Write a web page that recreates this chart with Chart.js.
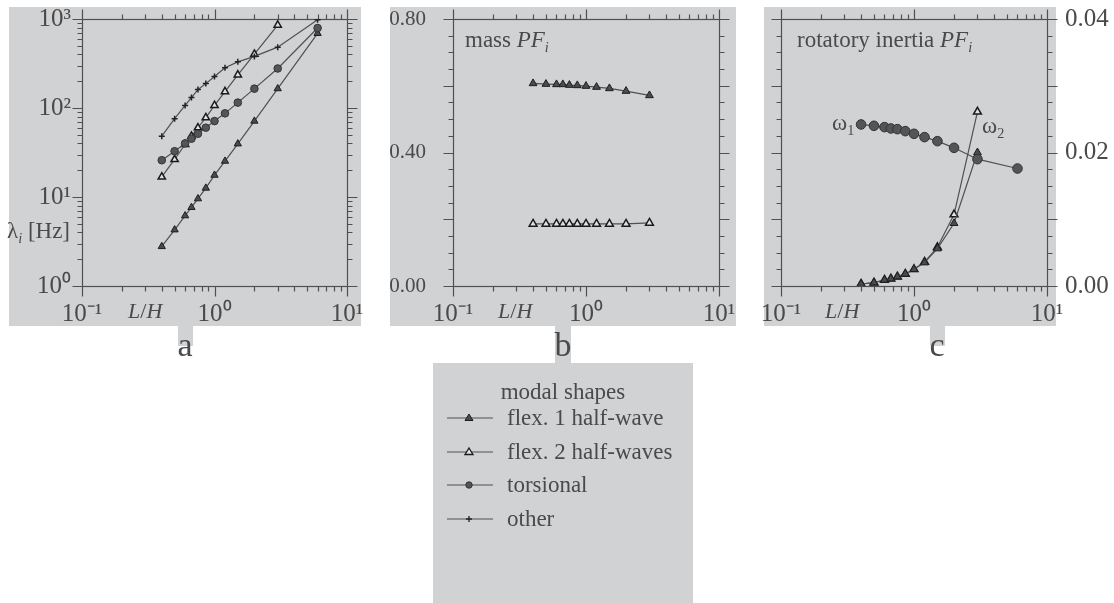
<!DOCTYPE html>
<html>
<head>
<meta charset="utf-8">
<script src="https://cdn.jsdelivr.net/npm/chart.js@4.4.1/dist/chart.umd.min.js"></script>
<style>
  body { margin: 0; width: 1114px; height: 603px; position: relative; overflow: hidden; background: #fff;
         font-family: "Liberation Serif", "Times New Roman", serif; color: #4a4a4a; }
  .panel { position: absolute; background: #d1d2d4; }
  canvas { position: absolute; }
  .txt { position: absolute; white-space: nowrap; font-size: 23px; line-height: 1; transform: translateY(-50%); }
  .txt sub { font-size: 0.62em; vertical-align: -0.3em; }
  .lh { font-size: 22px; }
  .letter { position: absolute; font-size: 34px; line-height: 34px; width: 40px; text-align: center; }
  #legend .row { position: absolute; left: 14px; height: 30px; font-size: 23px; line-height: 30px; white-space: nowrap; }
  #legend svg { position: absolute; left: 0; top: 9px; }
  #legend .row span { position: absolute; left: 60px; top: 0; }
</style>
</head>
<body>
<div class="panel" style="left:9px;top:7px;width:352px;height:319px"></div>
<div class="panel" style="left:390px;top:7px;width:346px;height:319px"></div>
<div class="panel" style="left:764px;top:7px;width:292px;height:319px"></div>

<div class="panel" style="left:178px;top:326px;width:15px;height:20px"></div>
<div class="panel" style="left:555px;top:326px;width:16px;height:37px"></div>
<div class="panel" style="left:930px;top:326px;width:15px;height:20px"></div>

<canvas id="chart-a" width="370" height="330" style="left:0;top:0"></canvas>
<canvas id="chart-b" width="346" height="330" style="left:390px;top:0"></canvas>
<canvas id="chart-c" width="364" height="330" style="left:750px;top:0"></canvas>

<div class="txt" style="left:7px;top:232px">&lambda;<sub><i>i</i></sub> [Hz]</div>
<div class="txt lh" style="left:128px;top:311px"><i>L</i>/<i>H</i></div>
<div class="txt lh" style="left:498px;top:311px"><i>L</i>/<i>H</i></div>
<div class="txt lh" style="left:825px;top:311px"><i>L</i>/<i>H</i></div>
<div class="txt" style="left:465px;top:41px">mass <i>PF</i><sub><i>i</i></sub></div>
<div class="txt" style="left:797px;top:41px">rotatory inertia <i>PF</i><sub><i>i</i></sub></div>
<div class="txt" style="left:832px;top:124px">&omega;<sub>1</sub></div>
<div class="txt" style="left:982px;top:127px">&omega;<sub>2</sub></div>

<div class="letter" style="left:165px;top:328px">a</div>
<div class="letter" style="left:543px;top:328px">b</div>
<div class="letter" style="left:917px;top:328px">c</div>

<div id="legend" class="panel" style="left:433px;top:363px;width:260px;height:240px">
  <div class="row" style="left:0;width:260px;top:14px;text-align:center">modal shapes</div>
</div>

<script>
const LH = [0.4, 0.5, 0.6, 0.67, 0.75, 0.86, 1.0, 1.2, 1.5, 2, 3, 6];

// panel a: natural frequencies [Hz]
const freqFlex1 = [2.78, 4.28, 6.16, 7.64, 9.57, 12.6, 17.6, 25.3, 39.6, 71.3, 165, 689];
const freqFlex2 = [16.8, 26.4, 38.9, 48.3, 60.0, 77.9, 107, 153, 236, 403, 855, null];
const freqTors = [25.9, 32.7, 40.0, 45.2, 51.4, 60.1, 71.3, 87.1, 115, 165, 278, 792];
const freqOther = [48.3, 75.9, 107, 131, 161, 188, 226, 283, 330, 380, 483, 982];

// panel b: mass participation factors
const massFlex1 = [0.607, 0.605, 0.604, 0.604, 0.602, 0.601, 0.599, 0.596, 0.592, 0.584, 0.571];
const massFlex2 = [0.186, 0.186, 0.186, 0.186, 0.186, 0.186, 0.186, 0.186, 0.186, 0.186, 0.189];

// panel c: rotatory inertia participation factors
const rotTors = [0.0242, 0.0240, 0.0238, 0.0236, 0.0235, 0.0232, 0.0228, 0.0223, 0.0217, 0.0207, 0.0190, 0.0176];
const rotFlex1 = [0.0003, 0.0005, 0.0009, 0.0011, 0.0014, 0.0018, 0.0025, 0.0035, 0.0056, 0.0094, 0.0200];
const rotFlex2 = [0.0003, 0.0005, 0.0009, 0.0011, 0.0014, 0.0018, 0.0025, 0.0036, 0.0058, 0.0107, 0.0261];

const legendLabels = ["flex. 1 half-wave", "flex. 2 half-waves", "torsional", "other"];

const INK = "#4a4a4a";
const LINE = "#505050";
const FONT = "'Liberation Serif', 'Times New Roman', serif";
const TOP = 19;
const BOTTOM = 286;

const STYLES = {
  flex1: { pointStyle: "triangle", pointRadius: 4.2, pointBackgroundColor: "#4b4b4b", pointBorderColor: "#1e1e1e", pointBorderWidth: 1 },
  flex2: { pointStyle: "triangle", pointRadius: 4.2, pointBackgroundColor: "#e2e2e2", pointBorderColor: "#1a1a1a", pointBorderWidth: 1.5 },
  tors: { pointStyle: "circle", pointRadius: 3.8, pointBackgroundColor: "#555555", pointBorderColor: "#333333", pointBorderWidth: 1 },
  other: { pointStyle: "cross", pointRadius: 3, pointBackgroundColor: "#222", pointBorderColor: "#222222", pointBorderWidth: 1.5 },
};

const SUP = { "-": "\u207B", "0": "\u2070", "1": "\u00B9", "2": "\u00B2", "3": "\u00B3" };

function decadeLabel(value) {
  const e = Math.log10(value);
  const r = Math.round(e);
  if (Math.abs(e - r) > 1e-6) return "";
  return "10" + String(r).split("").map((c) => SUP[c]).join("");
}

function points(xs, ys) {
  return xs.map((x, i) => ({ x, y: ys[i] })).filter((p) => p.y !== null && p.y !== undefined);
}

function series(kind, xs, ys, radius) {
  const style = Object.assign({}, STYLES[kind]);
  if (radius) style.pointRadius = radius;
  return Object.assign({ data: points(xs, ys), showLine: true, borderColor: LINE, borderWidth: 1.2, fill: false }, style);
}

function logTicks(minExp, maxExp) {
  const out = [];
  for (let e = minExp; e <= maxExp; e++) {
    out.push({ v: Math.pow(10, e), major: true });
    if (e < maxExp) {
      for (let m = 2; m <= 9; m++) out.push({ v: m * Math.pow(10, e), major: false });
    }
  }
  return out;
}

function linTicks(max, step, majorEvery) {
  const out = [];
  const n = Math.round(max / step);
  for (let i = 0; i <= n; i++) out.push({ v: i * step, major: i % majorEvery === 0 });
  return out;
}

// frame with outward tick marks on all four sides
const frameTicks = {
  id: "frameTicks",
  beforeDatasetsDraw(chart, args, opts) {
    const { ctx, chartArea: a } = chart;
    const x = chart.scales.x;
    const y = chart.scales.y;
    ctx.save();
    ctx.strokeStyle = LINE;
    ctx.lineWidth = 1.2;
    const L = Math.round(a.left) + 0.5, R = Math.round(a.right) + 0.5;
    const T = Math.round(a.top) + 0.5, B = Math.round(a.bottom) + 0.5;
    ctx.strokeRect(L, T, R - L, B - T);
    ctx.beginPath();
    opts.xTicks.forEach((t) => {
      const px = Math.round(x.getPixelForValue(t.v)) + 0.5;
      const len = t.major ? 10 : 5;
      ctx.moveTo(px, T); ctx.lineTo(px, T - len);
      ctx.moveTo(px, B); ctx.lineTo(px, B + len);
    });
    opts.yTicks.forEach((t) => {
      const py = Math.round(y.getPixelForValue(t.v)) + 0.5;
      const len = t.major ? 10 : 5;
      ctx.moveTo(L, py); ctx.lineTo(L - len, py);
      ctx.moveTo(R, py); ctx.lineTo(R + len, py);
    });
    ctx.stroke();
    ctx.restore();
  },
};

// fix the axis box size and drop the label overhang padding so the plot area stays put
function fixedSize(size) {
  return (scale) => {
    if (scale.isHorizontal()) scale.height = size;
    else scale.width = size;
    scale.paddingTop = 0;
    scale.paddingBottom = 0;
    scale.paddingLeft = 0;
    scale.paddingRight = 0;
  };
}

function makeChart(id, datasets, opts) {
  const canvas = document.getElementById(id);
  const tickFont = { family: FONT, size: 25 };
  return new Chart(canvas, {
    type: "scatter",
    data: { datasets },
    plugins: [frameTicks],
    options: {
      responsive: false,
      animation: false,
      devicePixelRatio: 1,
      layout: { padding: opts.padding },
      plugins: {
        legend: { display: false },
        tooltip: { enabled: false },
        frameTicks: { xTicks: logTicks(-1, 1), yTicks: opts.yTicks },
      },
      scales: {
        x: {
          type: "logarithmic", min: 0.1, max: 10, position: "bottom",
          grid: { display: false, drawTicks: false }, border: { display: false },
          afterFit: fixedSize(canvas.height - BOTTOM),
          ticks: { autoSkip: false, maxRotation: 0, padding: 13, color: INK, font: tickFont, callback: decadeLabel },
        },
        y: Object.assign({
          grid: { display: false, drawTicks: false }, border: { display: false },
          afterFit: fixedSize(opts.yWidth),
        }, opts.y, {
          ticks: Object.assign({ autoSkip: false, color: INK, font: tickFont }, opts.y.ticks),
        }),
      },
    },
  });
}

makeChart("chart-a", [
  series("other", LH, freqOther),
  series("tors", LH, freqTors),
  series("flex2", LH, freqFlex2),
  series("flex1", LH, freqFlex1),
], {
  padding: { left: 0, top: TOP, right: 23, bottom: 0 },
  yWidth: 82,
  yTicks: logTicks(0, 3),
  y: { type: "logarithmic", min: 1, max: 1000, position: "left", ticks: { padding: 11, callback: decadeLabel } },
});

makeChart("chart-b", [
  series("flex1", LH.slice(0, 11), massFlex1, 4.5),
  series("flex2", LH.slice(0, 11), massFlex2, 4.5),
], {
  padding: { left: 0, top: TOP, right: 17, bottom: 0 },
  yWidth: 63,
  yTicks: linTicks(0.8, 0.05, 4),
  y: { type: "linear", min: 0, max: 0.8, position: "left",
       ticks: { padding: 27, stepSize: 0.4, font: { family: FONT, size: 21 }, callback: (v) => v.toFixed(2) } },
});

makeChart("chart-c", [
  series("tors", LH, rotTors, 4.8),
  series("flex1", LH.slice(0, 11), rotFlex1, 4.5),
  series("flex2", LH.slice(0, 11), rotFlex2, 4.5),
], {
  padding: { left: 31, top: TOP, right: 0, bottom: 0 },
  yWidth: 67,
  yTicks: linTicks(0.04, 0.0025, 4),
  y: { type: "linear", min: 0, max: 0.04, position: "right",
       ticks: { padding: 18, stepSize: 0.02, callback: (v) => v.toFixed(2) } },
});

// legend rows with small line + marker samples
const legend = document.getElementById("legend");
const markerSvg = [
  '<polygon points="22,2 26,8.5 18,8.5" fill="#4b4b4b" stroke="#1e1e1e" stroke-width="1"/>',
  '<polygon points="22,2 26,8.5 18,8.5" fill="#e2e2e2" stroke="#1a1a1a" stroke-width="1.3"/>',
  '<circle cx="22" cy="6" r="3.2" fill="#555" stroke="#333" stroke-width="1"/>',
  '<path d="M22 3V9M19 6H25" stroke="#222" stroke-width="1.3"/>',
];
legendLabels.forEach((label, i) => {
  const row = document.createElement("div");
  row.className = "row";
  row.style.top = (40 + i * 33.7) + "px";
  row.innerHTML = '<svg width="46" height="12" viewBox="0 0 46 12">' +
    '<line x1="0" y1="6" x2="46" y2="6" stroke="#505050" stroke-width="1.2"/>' + markerSvg[i] +
    '</svg><span>' + label + '</span>';
  legend.appendChild(row);
});
</script>
</body>
</html>
